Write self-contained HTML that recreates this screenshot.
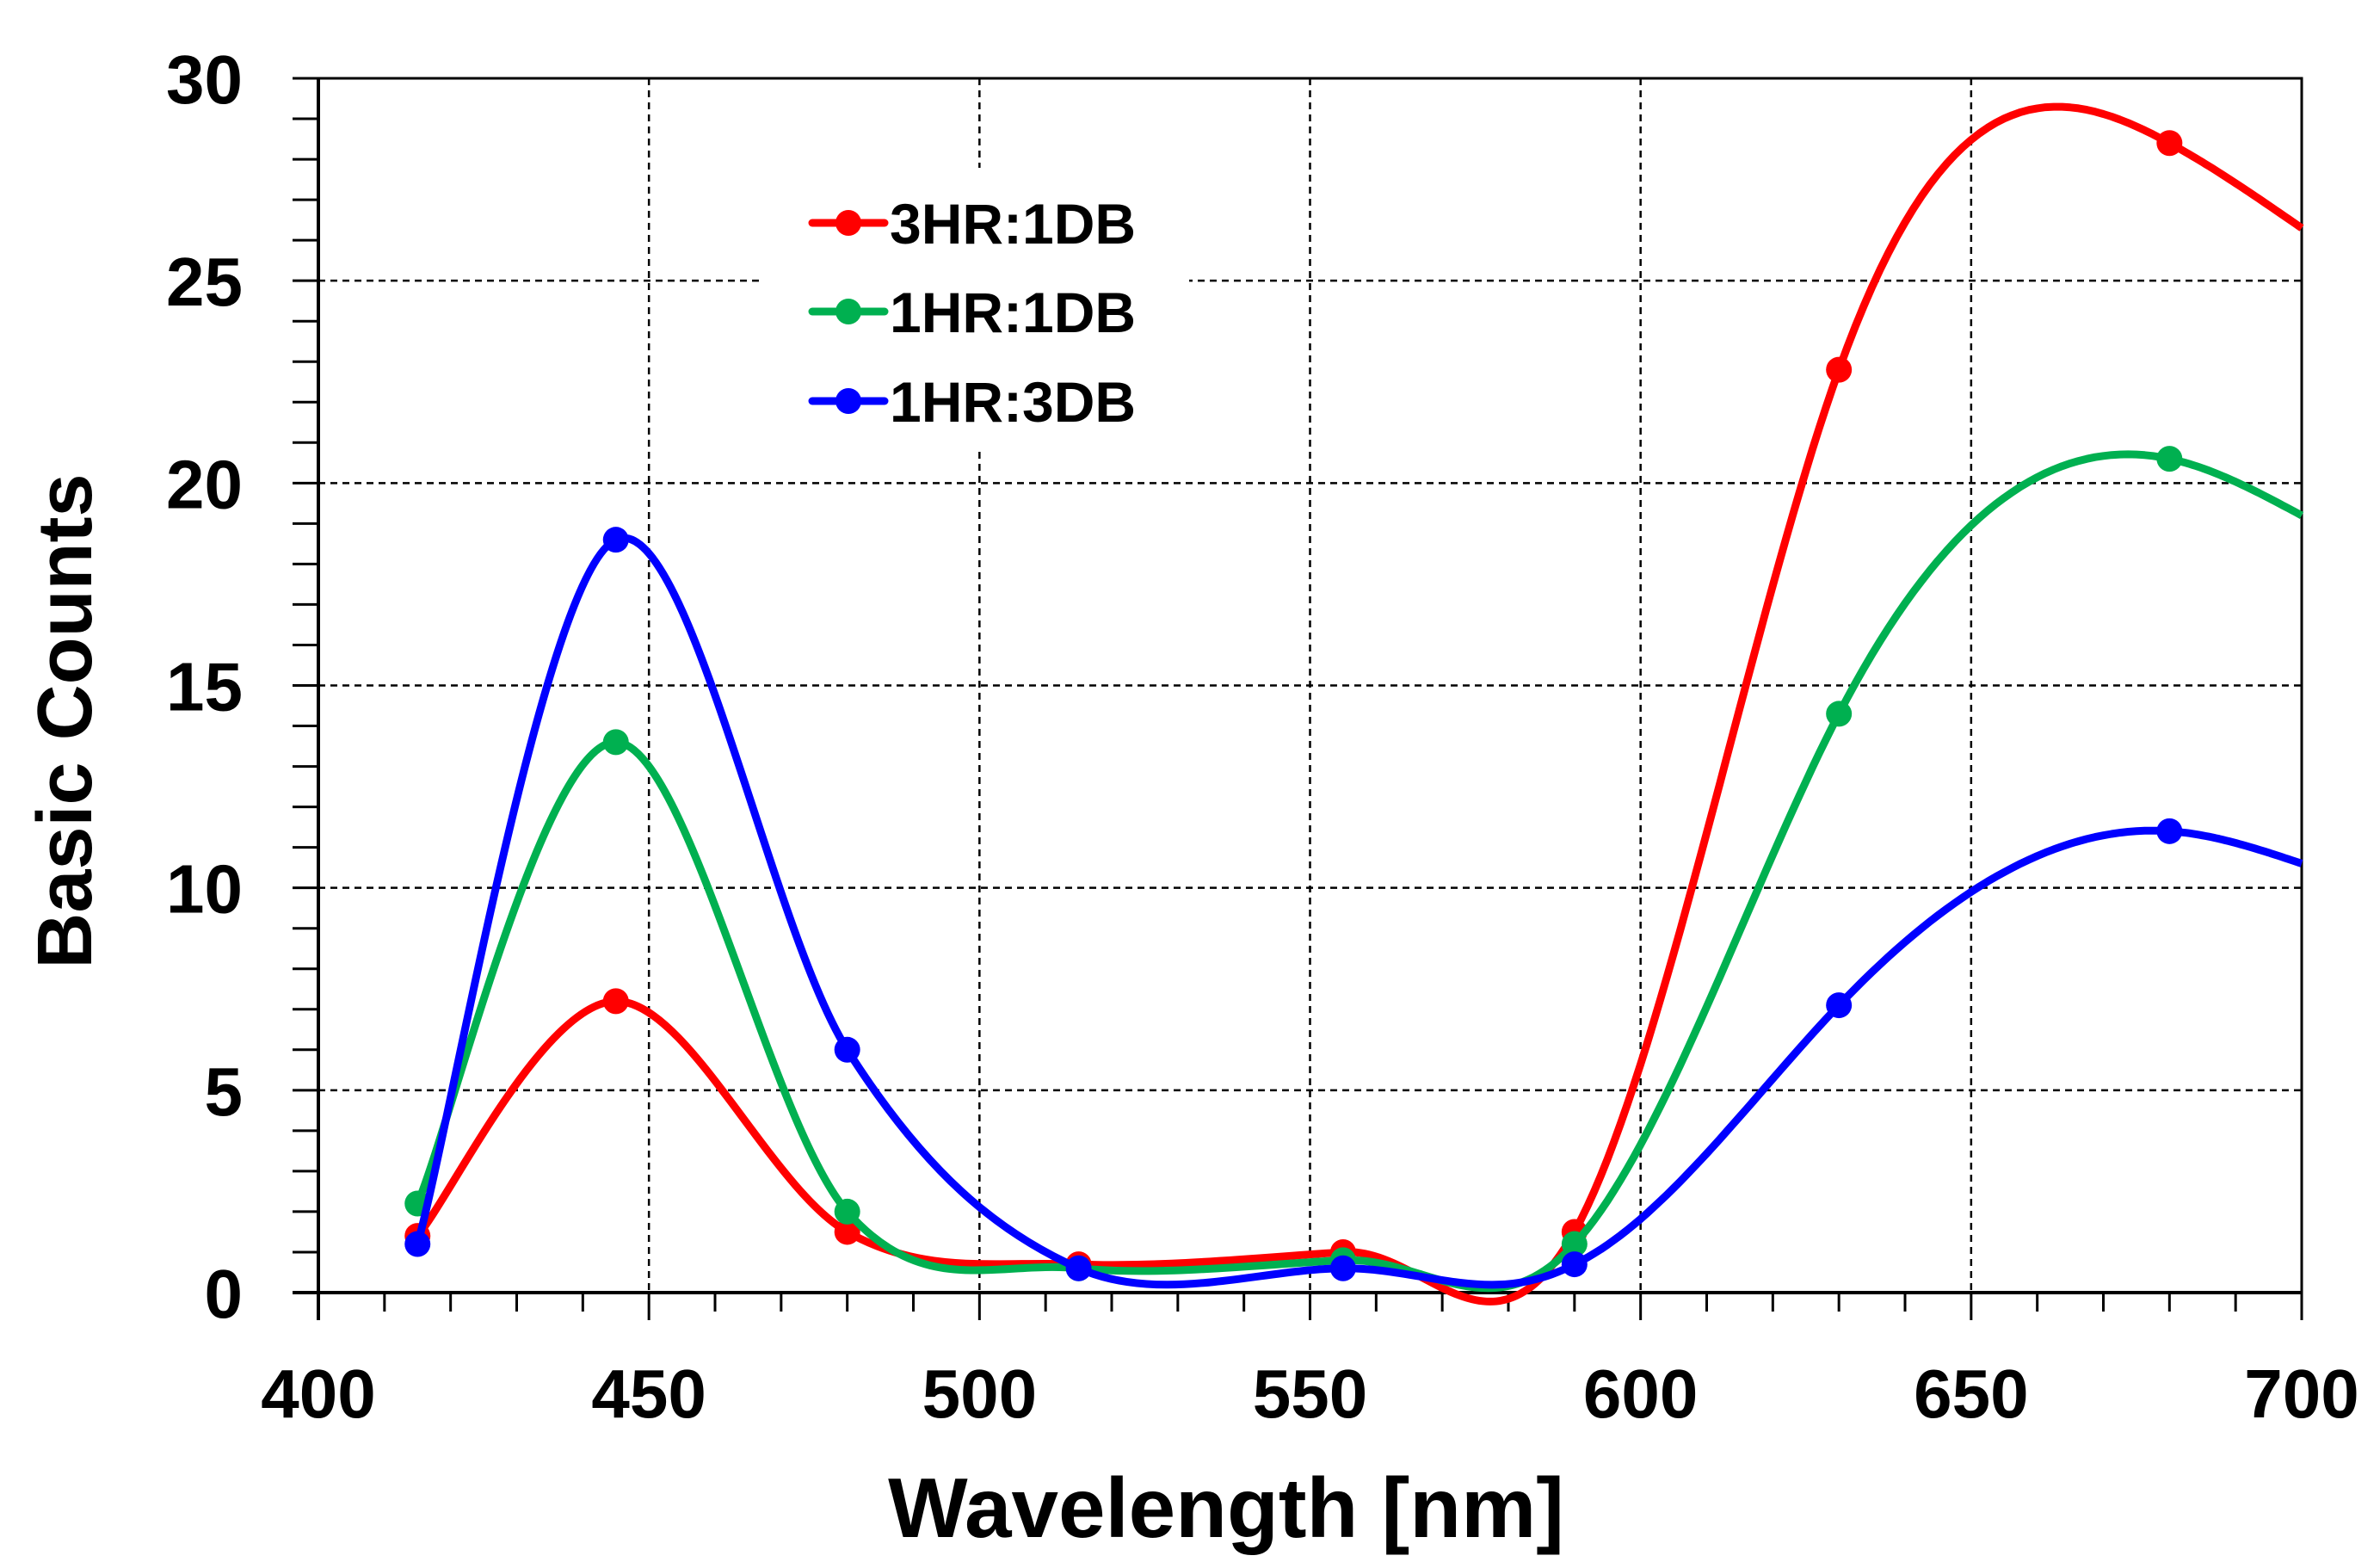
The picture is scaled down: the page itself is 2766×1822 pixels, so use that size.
<!DOCTYPE html>
<html><head><meta charset="utf-8"><style>
html,body{margin:0;padding:0;background:#fff;}
svg{display:block;font-family:"Liberation Sans",Arial,sans-serif;font-weight:bold;}
</style></head><body>
<svg id="chart" width="2766" height="1822" viewBox="0 0 2766 1822" xmlns="http://www.w3.org/2000/svg">
<rect width="2766" height="1822" fill="#fff"/>
<g id="grid"></g>
<g id="axes"></g>
<g id="legend"></g>
<g id="series"></g>
<text x="1425" y="1786" font-size="98" text-anchor="middle">Wavelength [nm]</text>
<text x="0" y="0" font-size="90" text-anchor="middle" transform="translate(106,838) rotate(-90)">Basic Counts</text>
</svg>
<script>
const wavelengths = [415, 445, 480, 515, 555, 590, 630, 680, 700];
const red3HR1DB   = [1.4, 7.2, 1.5, 0.7, 1.0, 1.5, 22.8, 28.4, 26.3];
const green1HR1DB = [2.2, 13.6, 2.0, 0.6, 0.8, 1.2, 14.3, 20.6, 19.2];
const blue1HR3DB  = [1.2, 18.6, 6.0, 0.6, 0.6, 0.7, 7.1, 11.4, 10.6];
const markerFlags = [1, 1, 1, 1, 1, 1, 1, 1, 0];
const xTicks = [400, 450, 500, 550, 600, 650, 700];
const yTicks = [0, 5, 10, 15, 20, 25, 30];
const seriesNames = ["3HR:1DB", "1HR:1DB", "1HR:3DB"];

const NS = "http://www.w3.org/2000/svg";
const L = 370, R = 2675, T = 91, B = 1502;
const xMin = 400, xMax = 700, yMin = 0, yMax = 30;
const SPLIT_X = 590;
function xs(v){ return L + (v - xMin) / (xMax - xMin) * (R - L); }
function ys(v){ return B - (v - yMin) / (yMax - yMin) * (B - T); }
function mk(tag, attrs, parent){ const e = document.createElementNS(NS, tag); for (const k in attrs) e.setAttribute(k, attrs[k]); parent.appendChild(e); return e; }

const grid = document.getElementById('grid');
const axes = document.getElementById('axes');
for (const t of xTicks) {
  if (t === xMin || t === xMax) continue;
  const g = mk('line', {x1: xs(t), x2: xs(t), y1: T, y2: B, stroke: '#000', 'stroke-width': 2.5, 'stroke-dasharray': '8,6'}, grid);
  
  
}
for (const t of yTicks) {
  if (t === yMin || t === yMax) continue;
  const g = mk('line', {x1: L, x2: R, y1: ys(t), y2: ys(t), stroke: '#000', 'stroke-width': 2.5, 'stroke-dasharray': '8,6'}, grid);
  
  
}
const fr = mk('path', {d: `M${L},${T} H${R} V${B}`, fill: 'none', stroke: '#000', 'stroke-width': 3}, axes);


const ax = mk('line', {x1: L - 30, x2: R, y1: B, y2: B, stroke: '#000', 'stroke-width': 4}, axes);


const ay = mk('line', {x1: L, x2: L, y1: T, y2: B + 32, stroke: '#000', 'stroke-width': 4}, axes);


for (let v = xMin; v <= xMax; v += 10) {
  const major = (v % 50 === 0);
  const tk = mk('line', {x1: xs(v), x2: xs(v), y1: B, y2: B + (major ? 32 : 22), stroke: '#000', 'stroke-width': 3}, axes);
  
  
}
for (let v = yMin; v <= yMax; v += 1) {
  const tk = mk('line', {x1: L - 30, x2: L, y1: ys(v), y2: ys(v), stroke: '#000', 'stroke-width': 3}, axes);
  
  
}
for (const t of xTicks) {
  const tx = mk('text', {x: xs(t), y: 1647, 'font-size': 80, 'text-anchor': 'middle'}, axes);
  tx.textContent = t;
  
  
}
for (const t of yTicks) {
  const tx = mk('text', {x: 282, y: ys(t) + 29, 'font-size': 80, 'text-anchor': 'end'}, axes);
  tx.textContent = t;
  
  
}
const leg = document.getElementById('legend');
const lb = mk('rect', {x: 882, y: 195, width: 500, height: 330, fill: '#fff'}, leg);


const colors = ['#ff0000', '#00b050', '#0000ff'];
const legY = [259, 362, 466];
seriesNames.forEach((n, i) => {
  const g = mk('g', {}, leg);
  
  
  mk('line', {x1: 944, x2: 1028, y1: legY[i], y2: legY[i], stroke: colors[i], 'stroke-width': 9, 'stroke-linecap': 'round'}, g);
  mk('circle', {cx: 986, cy: legY[i], r: 15, fill: colors[i]}, g);
  const t = mk('text', {x: 1034, y: legY[i] + 24, 'font-size': 66}, g);
  t.textContent = n;
});

function curvePath(x, y){
  const n = x.length;
  // natural cubic spline coefficients
  const h = [], a = [], l = new Array(n).fill(1), mu = new Array(n).fill(0), z = new Array(n).fill(0), c = new Array(n).fill(0), b = [], d = [];
  for (let i = 0; i < n - 1; i++) h.push(x[i + 1] - x[i]);
  for (let i = 1; i < n - 1; i++) a[i] = 3 / h[i] * (y[i + 1] - y[i]) - 3 / h[i - 1] * (y[i] - y[i - 1]);
  for (let i = 1; i < n - 1; i++) {
    l[i] = 2 * (x[i + 1] - x[i - 1]) - h[i - 1] * mu[i - 1];
    mu[i] = h[i] / l[i];
    z[i] = (a[i] - h[i - 1] * z[i - 1]) / l[i];
  }
  for (let j = n - 2; j >= 0; j--) {
    c[j] = z[j] - mu[j] * c[j + 1];
    b[j] = (y[j + 1] - y[j]) / h[j] - h[j] * (c[j + 1] + 2 * c[j]) / 3;
    d[j] = (c[j + 1] - c[j]) / (3 * h[j]);
  }
  const P = x.map((xv, i) => [xs(xv), ys(y[i])]);
  let dstr = `M${P[0][0]},${P[0][1]}`;
  for (let j = 0; j < n - 1; j++) {
    if (x[j] < SPLIT_X) {
      const p0 = P[Math.max(0, j - 1)], p1 = P[j], p2 = P[j + 1], p3 = P[Math.min(n - 1, j + 2)];
      const c1x = p1[0] + (p2[0] - p0[0]) / 6, c1y = p1[1] + (p2[1] - p0[1]) / 6;
      const c2x = p2[0] - (p3[0] - p1[0]) / 6, c2y = p2[1] - (p3[1] - p1[1]) / 6;
      dstr += ` C${c1x},${c1y} ${c2x},${c2y} ${p2[0]},${p2[1]}`;
    } else {
      for (let s = 1; s <= 40; s++) {
        const t = h[j] * s / 40;
        const v = y[j] + b[j] * t + c[j] * t * t + d[j] * t * t * t;
        dstr += ` L${xs(x[j] + t).toFixed(1)},${ys(v).toFixed(1)}`;
      }
    }
  }
  return dstr;
}

const seriesG = document.getElementById('series');
const allData = [red3HR1DB, green1HR1DB, blue1HR3DB];
const seriesKeys = ['series-3hr-1db', 'series-1hr-1db', 'series-1hr-3db'];
allData.forEach((vals, si) => {
  const g = mk('g', {}, seriesG);
  
  
  const p = mk('path', {d: curvePath(wavelengths, vals), fill: 'none', stroke: colors[si], 'stroke-width': 9, 'stroke-linejoin': 'round'}, g);
  
  
  wavelengths.forEach((w, i) => {
    if (!markerFlags[i]) return;
    const c = mk('circle', {cx: xs(w), cy: ys(vals[i]), r: 15, fill: colors[si]}, g);
    
    
  });
});
</script>
</body></html>
